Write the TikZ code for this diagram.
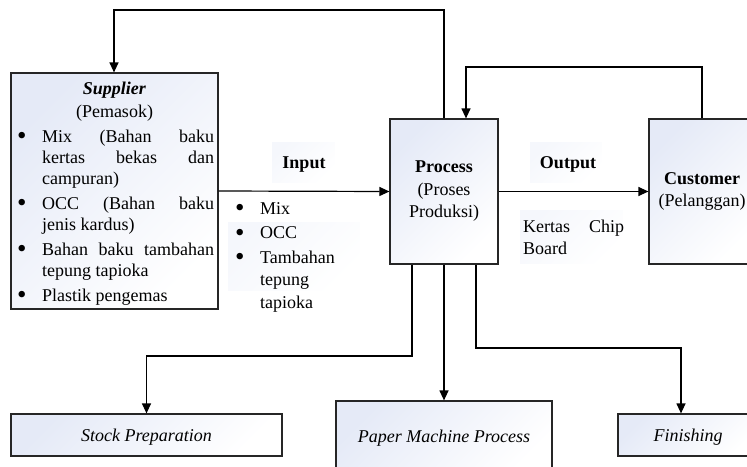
\documentclass[tikz,border=0pt]{standalone}
\usepackage{fontspec}
\setmainfont{Liberation Serif}
\usetikzlibrary{arrows.meta}
\definecolor{boxtint}{RGB}{229,234,247}
\definecolor{faint}{RGB}{245,247,252}
% bullet set in a box of fixed width, and a line stretched to a given width
\newcommand{\bul}[1]{\makebox[#1][l]{\raisebox{-2.5pt}{\scalebox{1.5}{\textbullet}}}}
\newcommand{\jl}[2]{\makebox[#1][s]{#2}}

\begin{document}
\begin{tikzpicture}[x=1pt,y=-1pt,
  box/.style={draw=black!85, line width=1.2pt, top color=boxtint,
    bottom color=white, shading angle=45, inner sep=0pt},
  lbg/.style={top color=faint, bottom color=white, shading angle=45},
  txt/.style={inner sep=0pt, anchor=base, font=\fontsize{18pt}{21pt}\selectfont},
  arr/.style={line width=1.2pt, -{Triangle[length=10pt,width=9pt]}},
  ln/.style={line width=1.2pt}]
\useasboundingbox (0,0) rectangle (747,466);
\clip (0,0) rectangle (747,466);

% faint backdrops behind the free-standing labels
\shade[lbg] (272,142) rectangle (335,182);
\shade[lbg] (228,222) rectangle (360,290);
\shade[lbg] (530,142) rectangle (602,182);
\shade[lbg] (520,210) rectangle (623,263);

% main boxes
\node[box, minimum width=207pt, minimum height=236pt] (sup) at (114.5,191) {};
\node[box, minimum width=108pt, minimum height=145pt, text width=108pt,
  align=center, font=\fontsize{18pt}{22.5pt}\selectfont] (proc) at (444,191.5)
  {\textbf{Process}\\(Proses\\Produksi)};
\node[box, minimum width=106pt, minimum height=145pt, text width=106pt,
  align=center, font=\fontsize{18pt}{22pt}\selectfont] (cust) at (702,191.5)
  {\textbf{Customer}\\(Pelanggan)};

% process stages
\node[box, minimum width=271pt, minimum height=42pt, text height=14pt,
  text depth=2pt, font=\fontsize{18pt}{21pt}\selectfont\itshape] (stock) at (146.5,435)
  {Stock Preparation};
\node[box, minimum width=216pt, minimum height=74pt, text height=12pt,
  text depth=4pt, font=\fontsize{18pt}{21pt}\selectfont\itshape] (pmp) at (444,438)
  {Paper Machine Process};
\node[box, minimum width=140pt, minimum height=42pt, text height=14pt,
  text depth=2pt, font=\fontsize{18pt}{21pt}\selectfont\itshape] (fin) at (688,435)
  {Finishing};

% supplier contents
\node[txt] (suptitle) at (114.5,94) {\textbf{\textit{Supplier}}};
\node[txt] (supsub) at (114.5,117) {(Pemasok)};
\node[txt, anchor=base west] (suplist) at (17,142) {\parbox[t]{200pt}{%
  \fontsize{18pt}{21pt}\selectfont
  \bul{25pt}\jl{172pt}{Mix (Bahan baku}\\
  \hspace*{25pt}\jl{172pt}{kertas bekas dan}\\
  \hspace*{25pt}campuran)\\[4pt]
  \bul{25pt}\jl{172pt}{OCC (Bahan baku}\\
  \hspace*{25pt}jenis kardus)\\[4pt]
  \bul{25pt}\jl{172pt}{Bahan baku tambahan}\\
  \hspace*{25pt}tepung tapioka\\[4pt]
  \bul{25pt}Plastik pengemas}};

% input / output labels
\node[txt] (inlabel) at (304,168) {\textbf{Input}};
\node[txt, anchor=base west] (inlist) at (235,214) {\parbox[t]{130pt}{%
  \fontsize{18pt}{22.5pt}\selectfont
  \bul{25pt}Mix\\[2pt]
  \bul{25pt}OCC\\[2pt]
  \bul{25pt}Tambahan\\
  \hspace*{25pt}tepung\\
  \hspace*{25pt}tapioka}};
\node[txt] (outlabel) at (568,168) {\textbf{Output}};
\node[txt, anchor=base west] (outlist) at (523,232) {\parbox[t]{110pt}{%
  \fontsize{18pt}{22pt}\selectfont
  \jl{101pt}{Kertas Chip}\\
  Board}};

% bend points of the connectors
\coordinate (topL) at (114,10);
\coordinate (topR) at (466,67);
\coordinate (bendL) at (146.5,356);
\coordinate (bendR) at (681,348);

% flows
\draw[arr] (sup.east) -- (proc.west);
\draw[arr] (proc.east) -- (cust.west);
\draw[arr] (proc.north) |- (topL) -- (topL |- sup.north);
\draw[arr] (cust.north) |- (topR) -- (topR |- proc.north);
\draw[arr] ([xshift=-32pt]proc.south) |- (bendL) -- (stock.north);
\draw[arr] (proc.south) -- (pmp.north);
\draw[arr] ([xshift=32pt]proc.south) |- (bendR) -- (bendR |- fin.north);
\end{tikzpicture}
\end{document}
